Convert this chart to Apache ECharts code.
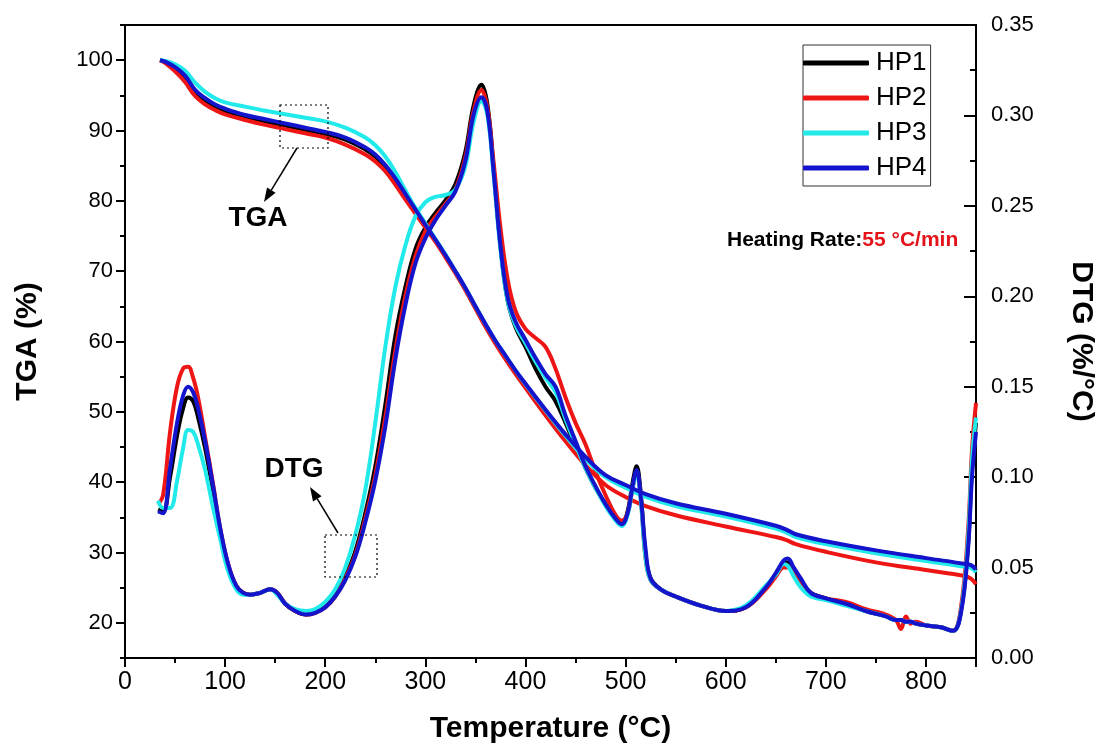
<!DOCTYPE html>
<html>
<head>
<meta charset="utf-8">
<script src="https://cdn.jsdelivr.net/npm/echarts/dist/echarts.min.js"></script>
<style>
html,body{margin:0;padding:0;background:#fff;}
#chart{width:1104px;height:749px;}
</style>
</head>
<body>
<div id="chart"></div>
<script>
// ---------------- DATA ----------------
const seriesNames = ['HP1', 'HP2', 'HP3', 'HP4'];
const seriesColors = ['#000000', '#ee1515', '#22eaea', '#1414cc'];

// TGA (%) vs temperature (°C)
const tgaTemp = [35,40,50,60,70,80,90,100,120,140,160,180,200,220,240,250,260,270,280,290,300,310,320,330,340,350,360,370,380,390,400,420,440,460,480,500,520,550,600,650,660,670,700,750,800,838,845,850];
const tgaHP1 = [100,99.7,98.8,97.6,95.5,94.3,93.4,92.8,91.9,91.3,90.7,90.1,89.5,88.7,87.3,86.3,84.8,82.9,80.8,78.7,76.6,74.4,72.2,69.9,67.5,64.9,62.3,60.0,57.9,55.8,53.9,50.2,46.7,43.5,40.9,39.5,38.2,36.9,35.4,33.7,33.2,32.5,31.5,30.2,29.1,28.3,28.1,27.4];
const tgaHP2 = [100,99.6,98.4,96.9,94.9,93.7,92.9,92.3,91.5,90.8,90.2,89.6,89.0,88.0,86.6,85.6,84.2,82.3,80.2,78.2,76.2,74.2,72.0,69.7,67.3,64.7,62.1,59.7,57.5,55.4,53.4,49.5,45.8,42.4,39.6,37.9,36.6,35.3,33.7,32.2,31.8,31.2,30.1,28.6,27.5,26.7,26.3,25.5];
const tgaHP3 = [100,99.9,99.4,98.5,96.8,95.5,94.6,94.0,93.4,92.8,92.3,91.8,91.3,90.4,89.0,87.9,86.3,84.1,81.5,79.0,76.8,74.6,72.4,70.0,67.6,65.0,62.5,60.1,58.0,55.9,53.9,50.2,46.6,43.3,40.7,39.2,37.9,36.6,35.1,33.4,32.9,32.2,31.2,29.9,28.8,28.0,27.8,27.2];
const tgaHP4 = [100,99.8,99.0,97.8,95.8,94.6,93.7,93.1,92.2,91.6,91.0,90.4,89.8,89.0,87.6,86.6,85.1,83.2,81.0,78.8,76.6,74.5,72.3,70.0,67.6,65.0,62.5,60.1,58.0,55.9,54.0,50.3,46.8,43.6,41.0,39.6,38.3,37.0,35.5,33.8,33.3,32.6,31.6,30.3,29.2,28.4,28.2,27.6];

// DTG (%/°C) vs temperature (°C)
const dtgTemp = [33,38,45,52,58,63,68,73,80,88,95,103,111,118,125,135,145,152,160,170,181,190,200,210,220,230,240,250,260,270,280,290,300,310,320,330,340,348,356,362,368,375,382,390,400,410,420,430,440,450,460,470,480,490,496,502,507,511,515,520,525,535,550,575,600,620,640,650,658,662,668,675,685,700,720,740,760,770,775,780,785,790,800,815,827,835,842,846,850];
const dtgHP1 = [.082,.081,.100,.123,.138,.144,.142,.133,.116,.092,
.070,.051,.040,.036,.035,.036,.038,.036,.030,.026,
.024,.025,.029,.035,.045,.059,.080,.106,.140,.178,
.205,.226,.238,.246,.253,.262,.280,.305,.317,.306,
.272,.228,.198,.183,.172,.160,.150,.142,.130,.117,
.105,.094,.085,.077,.074,.081,.097,.106,.092,.057,
.044,.038,.034,.029,.026,.028,.039,.046,.052,.053,
.049,.043,.036,.033,.030,.026,.023,.021,.021,.020,
.020,.019,.018,.017,.015,.026,.062,.105,.130];
const dtgHP2 = [.085,.090,.125,.150,.160,.161,.155,.144,.122,.096,
.072,.052,.040,.036,.035,.036,.038,.036,.030,.026,
.024,.025,.028,.034,.044,.057,.077,.101,.133,.170,
.200,.222,.236,.244,.251,.259,.277,.302,.314,.304,
.275,.238,.210,.192,.182,.177,.172,.160,.144,.130,
.118,.103,.090,.079,.076,.080,.094,.103,.089,.055,
.043,.038,.034,.029,.026,.028,.038,.045,.050,.050,
.047,.042,.036,.033,.031,.027,.024,.021,.016,.023,
.019,.020,.018,.017,.015,.028,.070,.115,.141];
const dtgHP3 = [.087,.083,.083,.098,.116,.126,.125,.118,.104,.083,
.066,.048,.038,.035,.035,.036,.038,.035,.030,.027,
.026,.027,.031,.038,.050,.068,.093,.130,.172,.205,
.228,.244,.252,.255,.256,.259,.272,.296,.308,.300,
.268,.226,.198,.184,.174,.164,.155,.147,.132,.118,
.105,.094,.084,.076,.073,.079,.094,.102,.088,.055,
.043,.038,.034,.029,.026,.029,.040,.046,.052,.051,
.045,.039,.034,.032,.029,.026,.023,.021,.021,.020,
.020,.019,.018,.017,.015,.026,.065,.110,.133];
const dtgHP4 = [.081,.080,.105,.130,.145,.150,.147,.138,.120,.095,
.072,.052,.040,.036,.035,.036,.038,.036,.030,.026,
.024,.025,.028,.034,.043,.056,.075,.098,.128,.165,
.195,.218,.232,.242,.250,.258,.275,.300,.310,.302,
.270,.228,.200,.186,.176,.166,.157,.150,.134,.120,
.106,.095,.085,.077,.074,.080,.095,.104,.090,.060,
.044,.038,.034,.029,.026,.028,.039,.047,.054,.055,
.050,.044,.036,.033,.030,.026,.023,.021,.021,.020,
.020,.019,.018,.017,.015,.025,.060,.100,.125];

// Axis tick values
const tgaTicks = [20,30,40,50,60,70,80,90,100];
const tgaMinorTicks = [15,25,35,45,55,65,75,85,95,105];

// ---------------- CHART ----------------
const tgaData = [tgaHP1, tgaHP2, tgaHP3, tgaHP4];
const dtgData = [dtgHP1, dtgHP2, dtgHP3, dtgHP4];
const zip = (xs, ys) => xs.map((x, i) => [x, ys[i]]);

const narrow = "'Liberation Sans Narrow','Arial Narrow','Liberation Sans',Arial,sans-serif";
const arial = "'Liberation Sans',Arial,sans-serif";

const series = [];
seriesNames.forEach((n, i) => {
  series.push({
    name: n, type: 'line', xAxisIndex: 0, yAxisIndex: 0,
    data: zip(tgaTemp, tgaData[i]), showSymbol: false, symbol: 'none',
    smooth: 0.4,
    lineStyle: { color: seriesColors[i], width: 4 }, itemStyle: { color: seriesColors[i] },
    z: 2 + i
  });
});
seriesNames.forEach((n, i) => {
  series.push({
    name: n, type: 'line', xAxisIndex: 0, yAxisIndex: 1,
    data: zip(dtgTemp, dtgData[i]), showSymbol: false, symbol: 'none',
    smooth: 0.4,
    lineStyle: { color: seriesColors[i], width: 4 }, itemStyle: { color: seriesColors[i] },
    z: 2 + i
  });
});

function arrow(x1, y1, x2, y2) {
  const ang = Math.atan2(y2 - y1, x2 - x1);
  const L = 14, W = 5;
  const bx = x2 - L * Math.cos(ang), by = y2 - L * Math.sin(ang);
  const px = -Math.sin(ang) * W, py = Math.cos(ang) * W;
  return [
    { type: 'line', shape: { x1: x1, y1: y1, x2: bx, y2: by }, style: { stroke: '#000', lineWidth: 1.5 }, z: 50 },
    { type: 'polygon', shape: { points: [[x2, y2], [bx + px, by + py], [bx - px, by - py]] }, style: { fill: '#000' }, z: 50 }
  ];
}

const graphics = [
  { type: 'rect', shape: { x: 280, y: 105, width: 48, height: 43 }, style: { fill: 'none', stroke: '#000', lineWidth: 1.2, lineDash: [2, 3] }, z: 50 },
  { type: 'rect', shape: { x: 325, y: 535, width: 52, height: 42 }, style: { fill: 'none', stroke: '#000', lineWidth: 1.2, lineDash: [2, 3] }, z: 50 },
  ...arrow(297, 148, 264, 202),
  ...arrow(338, 533, 310, 487),
  { type: 'text', x: 258, y: 218, style: { text: 'TGA', font: "bold 28px " + arial, fill: '#000', textAlign: 'center', textVerticalAlign: 'middle' }, z: 50 },
  { type: 'text', x: 294, y: 469, style: { text: 'DTG', font: "bold 28px " + arial, fill: '#000', textAlign: 'center', textVerticalAlign: 'middle' }, z: 50 },
  { type: 'text', x: 727, y: 240, style: {
      text: '{a|Heating Rate:}{b|55 °C/min}', textVerticalAlign: 'middle',
      rich: { a: { font: "bold 21px " + arial, fill: '#000' }, b: { font: "bold 21px " + arial, fill: '#e3141a' } }
    }, z: 50 }
];

const option = {
  backgroundColor: '#fff',
  animation: false,
  grid: { left: 125, right: 125, top: 25, bottom: 87, show: true, borderColor: '#000', borderWidth: 2, backgroundColor: 'transparent' },
  legend: {
    data: seriesNames, orient: 'vertical', left: 803, top: 45,
    padding: [5, 4, 5, 0], itemGap: 9, itemWidth: 66, itemHeight: 5, icon: 'roundRect',
    borderColor: '#333', borderWidth: 1,
    textStyle: { fontSize: 26, color: '#000', fontFamily: arial, padding: [0, 0, 0, 2] }
  },
  xAxis: [{
    type: 'value', min: 0, max: 850, interval: 100,
    name: 'Temperature (°C)', nameLocation: 'middle', nameGap: 56,
    nameTextStyle: { fontSize: 30, fontWeight: 'bold', color: '#000', fontFamily: narrow },
    axisLine: { show: true, onZero: false, lineStyle: { color: '#000', width: 2 } },
    axisTick: { show: true, length: 9, lineStyle: { color: '#000', width: 2 } },
    minorTick: { show: true, splitNumber: 2, length: 5, lineStyle: { color: '#000', width: 2 } },
    axisLabel: { fontSize: 25, color: '#000', fontFamily: narrow, margin: 12, showMaxLabel: false,
      formatter: v => (v % 100 === 0 ? String(v) : '') },
    splitLine: { show: false }
  }],
  yAxis: [{
    type: 'value', min: 15, max: 105, position: 'left',
    name: 'TGA (%)', nameLocation: 'middle', nameGap: 82, nameRotate: 90,
    nameTextStyle: { fontSize: 30, fontWeight: 'bold', color: '#000', fontFamily: arial },
    axisLine: { show: true, onZero: false, lineStyle: { color: '#000', width: 2 } },
    axisTick: { show: true, length: 9, customValues: tgaTicks, lineStyle: { color: '#000', width: 2 } },
    axisLabel: { fontSize: 22, color: '#000', fontFamily: arial, margin: 12, customValues: tgaTicks },
    splitLine: { show: false }
  }, {
    type: 'value', min: 0, max: 0.35, interval: 0.05, position: 'right',
    name: 'DTG (%/°C)', nameLocation: 'middle', nameGap: 90, nameRotate: -90,
    nameTextStyle: { fontSize: 30, fontWeight: 'bold', color: '#000', fontFamily: arial },
    axisLine: { show: true, onZero: false, lineStyle: { color: '#000', width: 2 } },
    axisTick: { show: true, inside: true, length: 12, lineStyle: { color: '#000', width: 2 } },
    minorTick: { show: true, splitNumber: 2, length: 6, lineStyle: { color: '#000', width: 2 } },
    axisLabel: { fontSize: 22, color: '#000', fontFamily: arial, margin: 15, formatter: v => v.toFixed(2) },
    splitLine: { show: false }
  }, {
    type: 'value', min: 15, max: 105, position: 'left',
    axisLine: { show: false },
    axisTick: { show: true, length: 5, customValues: tgaMinorTicks, lineStyle: { color: '#000', width: 2 } },
    axisLabel: { show: false },
    splitLine: { show: false }
  }],
  series: series,
  graphic: graphics
};

const chart = echarts.init(document.getElementById('chart'), null, { renderer: 'canvas' });
chart.setOption(option);
</script>
</body>
</html>
